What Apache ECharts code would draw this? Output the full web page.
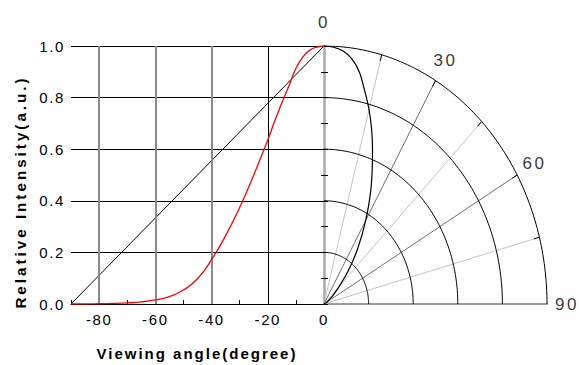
<!DOCTYPE html>
<html>
<head>
<meta charset="utf-8">
<script src="https://cdn.jsdelivr.net/npm/echarts@6/dist/echarts.min.js"></script>
<style>
  html, body { margin: 0; padding: 0; background: #fff; }
  #chart { width: 579px; height: 365px; }
  #chart text { letter-spacing: 1.6px; }
  #chart text[style*="17px"] { letter-spacing: 2.5px; }
  #chart text[style*="bold"] { letter-spacing: 2px; }
  #chart text[style*="15.2px"] { letter-spacing: 3px; }
</style>
</head>
<body>
<div id="chart"></div>
<script>
// Emission profile: relative intensity against viewing angle (degrees)
const viewAngles = [-90, -85, -80, -75, -70, -65, -60, -55, -50, -45, -40, -35, -30, -25, -20, -17.5, -15, -12.5, -10, -7.5, -5, -2.5, 0];
const intensity  = [0, 0, 0.001, 0.002, 0.004, 0.008, 0.016, 0.029, 0.054, 0.098, 0.172, 0.265, 0.374, 0.50, 0.636, 0.71, 0.78, 0.845, 0.913, 0.958, 0.984, 0.996, 1.0];

// Straight reference line across the left panel
const refAngles = [-90, 0];
const refValues = [0, 1];

// Vertical grid positions on the angle axis
const grayGridAngles = [-80, -60, -40];
const darkGridAngles = [-20];

// Polar quadrant: rings, spokes and angle labels
const ringRadii = [0.2, 0.4, 0.6, 0.8, 1.0];
const spokeAngles = [15, 30, 45, 60, 75];
const darkSpokes = [30, 60];
const angleLabels = [0, 30, 60, 90];

const rad = d => d * Math.PI / 180;
const polarPoint = (deg, r) => [r * Math.sin(rad(deg)), r * Math.cos(rad(deg))];

const FONT = 'Liberation Sans';

const chart = echarts.init(document.getElementById('chart'), null, { renderer: 'svg' });

const ringSeries = ringRadii.map(r => {
  const pts = [];
  for (let a = 0; a <= 90; a += 1) pts.push(polarPoint(a, r));
  return {
    type: 'line', xAxisIndex: 1, yAxisIndex: 2, data: pts,
    symbol: 'none', silent: true, z: 3,
    lineStyle: { color: '#000', width: 1 }
  };
});

const spokeSeries = spokeAngles.map(a => ({
  type: 'line', xAxisIndex: 1, yAxisIndex: 2,
  data: [polarPoint(a, 0), polarPoint(a, 1)],
  symbol: 'none', silent: true, z: 2,
  lineStyle: { color: darkSpokes.includes(a) ? '#6e6e6e' : '#c4c4c4', width: 1 }
}));

const spokeTickSeries = spokeAngles.map(a => ({
  type: 'line', xAxisIndex: 1, yAxisIndex: 2,
  data: [polarPoint(a, 0.975), polarPoint(a, 1)],
  symbol: 'none', silent: true, z: 3,
  lineStyle: { color: '#000', width: 1 }
}));

const option = {
  animation: false,
  backgroundColor: '#fff',
  grid: [
    { left: 71, top: 46, width: 253, height: 258 },
    { left: 324, top: 46, width: 223, height: 258 }
  ],
  xAxis: [
    {
      type: 'value', gridIndex: 0, min: -90, max: 0, interval: 10,
      axisLine: { show: true, lineStyle: { color: '#000', width: 1 } },
      axisTick: { show: true, inside: true, length: 4, lineStyle: { color: '#000' } },
      axisLabel: {
        margin: 8, color: '#000', fontFamily: FONT, fontSize: 15,
        formatter: v => (v % 20 === 0 ? String(v) : '')
      },
      splitLine: { show: false }
    },
    {
      type: 'value', gridIndex: 1, min: 0, max: 1,
      axisLine: { show: true, lineStyle: { color: '#9a9a9a', width: 2 } },
      axisTick: { show: false }, axisLabel: { show: false }, splitLine: { show: false }
    }
  ],
  yAxis: [
    {
      type: 'value', gridIndex: 0, min: 0, max: 1, interval: 0.2,
      axisLine: { show: true, lineStyle: { color: '#000', width: 1 } },
      axisTick: { show: true, inside: true, length: 4, lineStyle: { color: '#000' } },
      minorTick: { show: true, splitNumber: 2, length: 4, lineStyle: { color: '#000' } },
      axisLabel: {
        margin: 6, color: '#000', fontFamily: FONT, fontSize: 15,
        formatter: v => v.toFixed(1)
      },
      splitLine: { show: true, lineStyle: { color: '#000', width: 1 } }
    },
    {
      type: 'value', gridIndex: 0, position: 'right', min: 0, max: 1, interval: 0.2,
      axisLine: { show: true, lineStyle: { color: '#aaaaaa', width: 2.5 } },
      axisTick: { show: true, inside: true, length: 3, lineStyle: { color: '#000' } },
      minorTick: { show: true, splitNumber: 2, length: 3, lineStyle: { color: '#000' } },
      axisLabel: { show: false }, splitLine: { show: false }
    },
    {
      type: 'value', gridIndex: 1, min: 0, max: 1, show: false
    }
  ],
  series: [
    ...spokeSeries,
    ...spokeTickSeries,
    ...ringSeries,
    {
      // linear reference line, also carries the vertical grid lines
      type: 'line', xAxisIndex: 0, yAxisIndex: 0,
      data: refAngles.map((a, i) => [a, refValues[i]]),
      symbol: 'none', silent: true, z: 4,
      lineStyle: { color: '#000', width: 1 },
      markLine: {
        silent: true, symbol: ['none', 'none'], label: { show: false },
        animation: false,
        data: [
          ...grayGridAngles.map(a => ({ xAxis: a, lineStyle: { color: '#8a8a8a', width: 2, type: 'solid' } })),
          ...darkGridAngles.map(a => ({ xAxis: a, lineStyle: { color: '#000', width: 1, type: 'solid' } }))
        ]
      }
    },
    {
      // intensity profile against angle
      type: 'line', xAxisIndex: 0, yAxisIndex: 0,
      data: viewAngles.map((a, i) => [a, intensity[i]]),
      symbol: 'none', smooth: 0.5, z: 6,
      lineStyle: { color: '#ff0000', width: 1.3 }
    },
    {
      // the same profile in the polar quadrant
      type: 'line', xAxisIndex: 1, yAxisIndex: 2,
      data: viewAngles.map((a, i) => polarPoint(-a, intensity[i])),
      symbol: 'none', smooth: 0.3, z: 6,
      lineStyle: { color: '#000', width: 1.2 }
    },
    {
      // angle labels around the quadrant
      type: 'scatter', xAxisIndex: 1, yAxisIndex: 2, clip: false,
      data: angleLabels.map(a => ({ value: polarPoint(a, 1.09), name: String(a) })),
      symbolSize: 1, itemStyle: { color: 'rgba(0,0,0,0)' }, silent: true, z: 8,
      label: {
        show: true, position: 'inside', formatter: p => p.name,
        color: '#000', fontFamily: FONT, fontSize: 17,
        align: 'center', verticalAlign: 'middle'
      }
    }
  ],
  graphic: [
    {
      type: 'text', x: 197, y: 353,
      style: {
        text: 'Viewing angle(degree)', fill: '#000',
        fontFamily: FONT, fontSize: 15, fontWeight: 'bold',
        textAlign: 'center', textVerticalAlign: 'middle'
      }
    },
    {
      type: 'text', x: 20, y: 192, rotation: Math.PI / 2,
      style: {
        text: 'Relative Intensity(a.u.)', fill: '#000',
        fontFamily: FONT, fontSize: 15.2, fontWeight: 'bold',
        textAlign: 'center', textVerticalAlign: 'middle'
      }
    }
  ]
};

chart.setOption(option);
</script>
</body>
</html>
